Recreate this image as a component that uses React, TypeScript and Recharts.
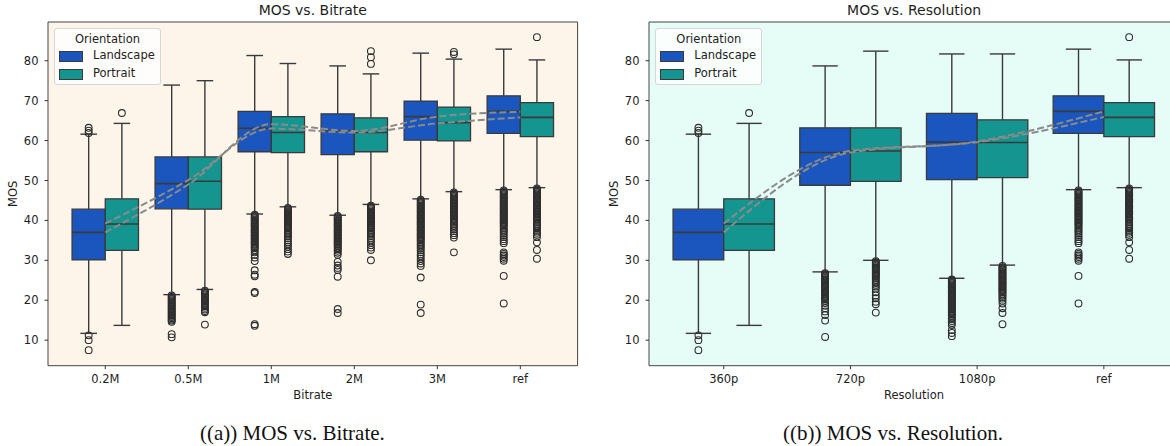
import React from "react";
import {
  ComposedChart,
  XAxis,
  YAxis,
  ReferenceArea,
  ReferenceLine,
  Scatter,
  Line,
} from "recharts";

const bitrateLabels = ["0.2M", "0.5M", "1M", "2M", "3M", "ref"];
const resolutionLabels = ["360p", "720p", "1080p", "ref"];
const yTicks = [10, 20, 30, 40, 50, 60, 70, 80];

// box stats: [lower whisker, q1, median, q3, upper whisker]
const bitrateLandscape = [
  [11.7, 30.1, 37.0, 42.8, 61.6],
  [21.4, 42.9, 49.2, 55.9, 73.9],
  [41.6, 57.2, 63.1, 67.3, 81.3],
  [41.3, 56.5, 62.4, 66.7, 78.7],
  [45.4, 60.1, 66.0, 69.9, 81.9],
  [47.7, 61.8, 67.3, 71.2, 82.9],
];
const bitratePortrait = [
  [13.7, 32.5, 39.1, 45.4, 64.3],
  [22.7, 42.8, 49.8, 55.9, 75.0],
  [43.4, 57.0, 62.0, 66.0, 79.3],
  [44.0, 57.2, 62.0, 65.7, 76.7],
  [47.2, 59.9, 64.5, 68.4, 80.4],
  [48.2, 61.0, 65.8, 69.5, 80.2],
];
const resolutionLandscape = [
  [11.7, 30.1, 37.0, 42.8, 61.6],
  [27.1, 48.8, 57.0, 63.2, 78.7],
  [25.5, 50.2, 59.6, 66.8, 81.7],
  [47.7, 61.8, 67.3, 71.2, 82.9],
];
const resolutionPortrait = [
  [13.7, 32.5, 39.1, 45.4, 64.3],
  [30.0, 49.8, 57.4, 63.2, 82.4],
  [28.8, 50.7, 59.5, 65.2, 81.7],
  [48.2, 61.0, 65.8, 69.5, 80.2],
];

// outliers per category
const refLandscapeOut = [
  47.5, 47.2, 46.9, 46.6, 46.3, 46.0, 45.7, 45.4, 45.1, 44.8, 44.5, 44.2, 43.9, 43.6, 43.3, 43.0,
  42.7, 42.4, 42.1, 41.8, 41.5, 41.2, 40.9, 40.6, 40.3, 40.0, 39.7, 39.4, 39.1, 38.8, 38.4, 38.0,
  37.6, 37.2, 36.8, 36.3, 35.8, 35.3, 34.8, 34.3, 32.0, 31.6, 31.2, 30.8, 30.4, 29.9, 26.1, 19.2,
];
const refPortraitOut = [
  85.9, 48.0, 47.7, 47.4, 47.1, 46.8, 46.5, 46.2, 45.9, 45.6, 45.3, 45.0, 44.7, 44.4, 44.1, 43.8,
  43.5, 43.2, 42.9, 42.6, 42.3, 42.0, 41.7, 41.4, 41.1, 40.8, 40.5, 40.2, 39.9, 39.5, 39.1, 38.7,
  38.3, 37.9, 37.4, 36.9, 36.4, 35.8, 34.5, 32.6, 30.4,
];
const bitrateLandscapeOut = [
  [63.2, 62.5, 61.9, 11.2, 10.0, 7.5],
  [21.2, 20.9, 20.6, 20.3, 20.0, 19.7, 19.4, 19.1, 18.8, 18.5, 18.2, 17.9, 17.6, 17.3, 17.0, 16.7,
    16.4, 16.1, 15.8, 15.5, 15.2, 14.9, 14.6, 11.5, 10.7],
  [41.4, 41.1, 40.8, 40.5, 40.2, 39.9, 39.6, 39.3, 39.0, 38.7, 38.4, 38.1, 37.8, 37.5, 37.2, 36.9,
    36.6, 36.3, 36.0, 35.7, 35.4, 35.1, 34.8, 34.5, 34.2, 33.9, 33.6, 33.3, 33.0, 32.5, 32.0, 31.4,
    30.7, 29.8, 27.5, 26.4, 26.0, 22.1, 21.8, 14.0, 13.6],
  [41.1, 40.8, 40.5, 40.2, 39.9, 39.6, 39.3, 39.0, 38.7, 38.4, 38.1, 37.8, 37.5, 37.2, 36.9, 36.6,
    36.3, 36.0, 35.7, 35.4, 35.1, 34.8, 34.5, 34.2, 33.9, 33.6, 33.2, 32.8, 32.4, 31.9, 31.4, 29.6,
    28.7, 28.1, 27.6, 25.9, 17.8, 16.8],
  [45.2, 44.9, 44.6, 44.3, 44.0, 43.7, 43.4, 43.1, 42.8, 42.5, 42.2, 41.9, 41.6, 41.3, 41.0, 40.7,
    40.4, 40.1, 39.8, 39.5, 39.2, 38.9, 38.6, 38.3, 38.0, 37.7, 37.4, 37.1, 36.8, 36.5, 36.2, 35.9,
    35.6, 35.3, 35.0, 34.6, 34.2, 33.8, 33.4, 33.0, 32.5, 32.0, 31.5, 31.0, 30.4, 29.8, 29.2, 28.6,
    25.7, 18.9, 16.8],
  refLandscapeOut,
];
const bitratePortraitOut = [
  [66.9],
  [22.4, 22.1, 21.8, 21.5, 21.2, 20.9, 20.6, 20.3, 20.0, 19.7, 19.4, 19.1, 18.8, 18.5, 18.1, 17.7,
    17.3, 17.0, 13.9],
  [43.1, 42.8, 42.5, 42.2, 41.9, 41.6, 41.3, 41.0, 40.7, 40.4, 40.1, 39.8, 39.5, 39.2, 38.9, 38.6,
    38.3, 38.0, 37.6, 37.2, 36.8, 36.4, 36.0, 35.5, 35.0, 34.5, 34.0, 33.4, 32.8, 32.2, 31.6],
  [82.4, 80.9, 79.2, 43.7, 43.4, 43.1, 42.8, 42.5, 42.2, 41.9, 41.6, 41.3, 41.0, 40.7, 40.4, 40.1,
    39.8, 39.5, 39.2, 38.9, 38.6, 38.3, 38.0, 37.6, 37.2, 36.8, 36.4, 36.0, 35.5, 35.0, 34.4, 33.8,
    33.2, 32.6, 30.0],
  [82.2, 81.6, 47.0, 46.7, 46.4, 46.1, 45.8, 45.5, 45.2, 44.9, 44.6, 44.3, 44.0, 43.7, 43.4, 43.1,
    42.8, 42.5, 42.2, 41.9, 41.6, 41.3, 41.0, 40.7, 40.4, 40.1, 39.8, 39.4, 39.0, 38.6, 38.2, 37.8,
    37.3, 36.8, 36.3, 35.7, 32.0],
  refPortraitOut,
];
const resolutionLandscapeOut = [
  [63.2, 62.5, 61.9, 11.2, 10.0, 7.5],
  [26.8, 26.5, 26.2, 25.9, 25.6, 25.3, 25.0, 24.7, 24.4, 24.1, 23.8, 23.5, 23.2, 22.9, 22.6, 22.3,
    22.0, 21.7, 21.4, 21.1, 20.8, 20.5, 20.2, 19.8, 19.3, 18.6, 18.0, 17.2, 16.3, 14.9, 10.8],
  [25.2, 24.9, 24.6, 24.3, 24.0, 23.7, 23.4, 23.1, 22.8, 22.5, 22.2, 21.9, 21.6, 21.3, 21.0, 20.7,
    20.4, 20.1, 19.8, 19.5, 19.2, 18.9, 18.6, 18.3, 18.0, 17.7, 17.4, 17.1, 16.8, 16.5, 16.1, 15.7,
    15.3, 14.8, 14.3, 13.8, 12.5, 11.8, 11.0],
  refLandscapeOut,
];
const resolutionPortraitOut = [
  [66.9],
  [29.8, 29.5, 29.2, 28.9, 28.6, 28.3, 28.0, 27.7, 27.4, 27.1, 26.8, 26.5, 26.2, 25.9, 25.5, 25.1,
    24.7, 24.3, 23.9, 23.4, 22.9, 22.0, 21.2, 20.5, 19.6, 19.0, 16.9],
  [28.6, 28.3, 28.0, 27.7, 27.4, 27.1, 26.8, 26.5, 26.2, 25.9, 25.6, 25.3, 25.0, 24.7, 24.4, 24.1,
    23.8, 23.5, 23.2, 22.9, 22.6, 22.3, 22.0, 21.6, 21.2, 20.8, 20.4, 19.9, 19.2, 18.0, 16.8, 14.0],
  refPortraitOut,
];

// dashed trend lines, value at each category centre
const bitrateTrendLandscape = [37.0, 49.0, 64.1, 62.4, 66.0, 67.2];
const bitrateTrendPortrait = [39.2, 50.1, 63.0, 62.0, 64.3, 65.8];
const resolutionTrendLandscape = [37.0, 57.0, 59.8, 67.3];
const resolutionTrendPortrait = [39.2, 57.4, 59.6, 65.9];

const LANDSCAPE = "#1b56be";
const PORTRAIT = "#15958f";
const EDGE = "#3a3a3a";
const FONT = "'DejaVu Sans', sans-serif";
const Y_DOMAIN: [number, number] = [3.6, 89.7];

const CHART_W = 600;
const CHART_H = 446;
const MARGIN = { top: 22, right: 22.4, bottom: 50.3, left: 0 };
const Y_AXIS_W = 48;

function boxMarks(stats: number[], c: number, color: string, key: string) {
  const [lo, q1, med, q3, hi] = stats;
  const line = { stroke: EDGE, strokeWidth: 1.4 };
  return [
    <ReferenceLine key={key + "wl"} segment={[{ x: c, y: lo }, { x: c, y: q1 }]} {...line} />,
    <ReferenceLine key={key + "wh"} segment={[{ x: c, y: q3 }, { x: c, y: hi }]} {...line} />,
    <ReferenceLine key={key + "cl"} segment={[{ x: c - 0.1, y: lo }, { x: c + 0.1, y: lo }]} {...line} />,
    <ReferenceLine key={key + "ch"} segment={[{ x: c - 0.1, y: hi }, { x: c + 0.1, y: hi }]} {...line} />,
    <ReferenceArea
      key={key + "box"}
      x1={c - 0.2}
      x2={c + 0.2}
      y1={q1}
      y2={q3}
      fill={color}
      fillOpacity={1}
      stroke={EDGE}
      strokeWidth={1.3}
    />,
    <ReferenceLine key={key + "med"} segment={[{ x: c - 0.2, y: med }, { x: c + 0.2, y: med }]} stroke={EDGE} strokeWidth={1.6} />,
  ];
}

function Legend({ left }: { left: number }) {
  const item = (top: number, color: string, label: string) => (
    <>
      <div
        style={{
          position: "absolute",
          left: 4,
          top,
          width: 22,
          height: 9,
          background: color,
          border: `1px solid ${EDGE}`,
        }}
      />
      <div style={{ position: "absolute", left: 38, top: top - 3, lineHeight: "14px" }}>{label}</div>
    </>
  );
  return (
    <div
      style={{
        position: "absolute",
        left,
        top: 28,
        width: 105,
        height: 55,
        background: "rgba(255,255,255,0.8)",
        border: "1px solid #d6d6d6",
        borderRadius: 3,
        fontFamily: FONT,
        fontSize: 11.5,
        color: "#222",
      }}
    >
      <div style={{ position: "absolute", left: 0, width: 105, top: 3, textAlign: "center", lineHeight: "14px" }}>
        Orientation
      </div>
      {item(22, LANDSCAPE, "Landscape")}
      {item(40, PORTRAIT, "Portrait")}
    </div>
  );
}

type PanelProps = {
  left: number;
  title: string;
  xLabel: string;
  labels: string[];
  landscape: number[][];
  portrait: number[][];
  landscapeOut: number[][];
  portraitOut: number[][];
  trendLandscape: number[];
  trendPortrait: number[];
  bg: string;
  pad: number;
};

function Panel(p: PanelProps) {
  const n = p.labels.length;
  const xDomain: [number, number] = [-p.pad, n - 1 + p.pad];
  const plotLeft = Y_AXIS_W;
  const plotW = CHART_W - Y_AXIS_W - MARGIN.right;
  const outL = p.landscapeOut.flatMap((vals, i) => vals.map((v) => ({ x: i - 0.2, y: v })));
  const outP = p.portraitOut.flatMap((vals, i) => vals.map((v) => ({ x: i + 0.2, y: v })));
  const trendL = p.trendLandscape.map((v, i) => ({ x: i, y: v }));
  const trendP = p.trendPortrait.map((v, i) => ({ x: i, y: v }));
  const marks = p.labels.flatMap((_, i) => [
    ...boxMarks(p.landscape[i], i - 0.2, LANDSCAPE, `l${i}`),
    ...boxMarks(p.portrait[i], i + 0.2, PORTRAIT, `p${i}`),
  ]);
  const circle = (s: any) => (
    <circle cx={s.cx} cy={s.cy} r={3.4} fill="none" stroke="#2e2e2e" strokeWidth={1.1} />
  );

  return (
    <div style={{ position: "absolute", left: p.left, top: 0, width: CHART_W, height: CHART_H }}>
      <ComposedChart width={CHART_W} height={CHART_H} margin={MARGIN}>
        <XAxis
          type="number"
          dataKey="x"
          domain={xDomain}
          allowDataOverflow
          ticks={p.labels.map((_, i) => i)}
          interval={0}
          tickFormatter={(v: number) => p.labels[v] ?? ""}
          axisLine={false}
          tickLine={{ stroke: "#333" }}
          tickSize={3.5}
          tickMargin={5.6}
          height={30}
          tick={{ fill: "#1e1e1e", fontSize: 11.5, fontFamily: FONT }}
        />
        <YAxis
          type="number"
          dataKey="y"
          domain={Y_DOMAIN}
          allowDataOverflow
          ticks={yTicks}
          interval={0}
          axisLine={false}
          tickLine={{ stroke: "#333" }}
          tickSize={3.5}
          tickMargin={6}
          width={Y_AXIS_W}
          tick={{ fill: "#1e1e1e", fontSize: 11.5, fontFamily: FONT }}
        />
        <ReferenceArea
          x1={xDomain[0]}
          x2={xDomain[1]}
          y1={Y_DOMAIN[0]}
          y2={Y_DOMAIN[1]}
          fill={p.bg}
          fillOpacity={1}
          stroke="#444"
          strokeWidth={1}
          ifOverflow="visible"
        />
        {marks}
        <Scatter data={outL} shape={circle} isAnimationActive={false} />
        <Scatter data={outP} shape={circle} isAnimationActive={false} />
        <Line
          data={trendL}
          dataKey="y"
          type="monotone"
          stroke="#8a8a8a"
          strokeWidth={2}
          strokeDasharray="7 3"
          dot={false}
          activeDot={false}
          isAnimationActive={false}
        />
        <Line
          data={trendP}
          dataKey="y"
          type="monotone"
          stroke="#8a8a8a"
          strokeWidth={2}
          strokeDasharray="7 3"
          dot={false}
          activeDot={false}
          isAnimationActive={false}
        />
      </ComposedChart>

      <div
        style={{
          position: "absolute",
          left: plotLeft,
          width: plotW,
          top: 3.2,
          textAlign: "center",
          fontFamily: FONT,
          fontSize: 14,
          lineHeight: "14px",
          color: "#1e1e1e",
        }}
      >
        {p.title}
      </div>
      <div
        style={{
          position: "absolute",
          left: plotLeft,
          width: plotW,
          top: 390.3,
          textAlign: "center",
          fontFamily: FONT,
          fontSize: 11.5,
          lineHeight: "11.5px",
          color: "#1e1e1e",
        }}
      >
        {p.xLabel}
      </div>
      <div
        style={{
          position: "absolute",
          left: 13.7 - 30,
          width: 60,
          top: 194 - 5.75,
          textAlign: "center",
          fontFamily: FONT,
          fontSize: 11.5,
          lineHeight: "11.5px",
          color: "#1e1e1e",
          transform: "rotate(-90deg)",
        }}
      >
        MOS
      </div>
      <Legend left={plotLeft + 6} />
    </div>
  );
}

function Caption({ center, text }: { center: number; text: string }) {
  return (
    <div
      style={{
        position: "absolute",
        left: center - 200,
        width: 400,
        top: 423,
        textAlign: "center",
        fontFamily: "'Liberation Serif', 'Times New Roman', serif",
        fontSize: 21,
        lineHeight: "21px",
        color: "#111",
      }}
    >
      {text}
    </div>
  );
}

export default function App() {
  return (
    <div
      style={{
        position: "fixed",
        left: 0,
        top: 0,
        width: 1170,
        height: 446,
        overflow: "hidden",
        background: "#fff",
      }}
    >
      <Panel
        left={0}
        title="MOS vs. Bitrate"
        xLabel="Bitrate"
        labels={bitrateLabels}
        landscape={bitrateLandscape}
        portrait={bitratePortrait}
        landscapeOut={bitrateLandscapeOut}
        portraitOut={bitratePortraitOut}
        trendLandscape={bitrateTrendLandscape}
        trendPortrait={bitrateTrendPortrait}
        bg="#fdf5ea"
        pad={0.69}
      />
      <Panel
        left={601.3}
        title="MOS vs. Resolution"
        xLabel="Resolution"
        labels={resolutionLabels}
        landscape={resolutionLandscape}
        portrait={resolutionPortrait}
        landscapeOut={resolutionLandscapeOut}
        portraitOut={resolutionPortraitOut}
        trendLandscape={resolutionTrendLandscape}
        trendPortrait={resolutionTrendPortrait}
        bg="#e6fdf7"
        pad={0.59}
      />
      <Caption center={292.4} text="((a)) MOS vs. Bitrate." />
      <Caption center={893} text="((b)) MOS vs. Resolution." />
    </div>
  );
}
